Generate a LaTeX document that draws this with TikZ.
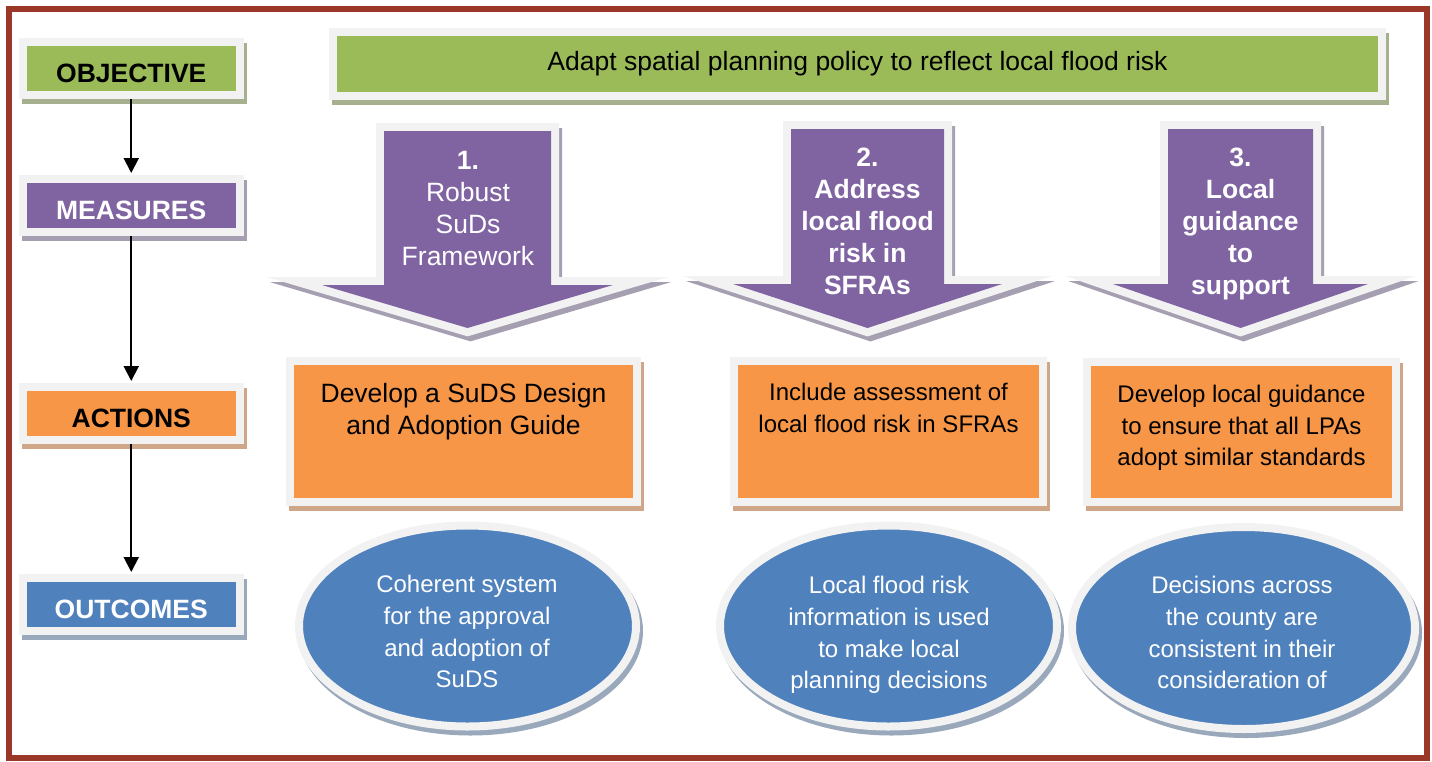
\documentclass[tikz,border=0pt]{standalone}
\usepackage{fontspec}
\setmainfont{Liberation Sans}
\usetikzlibrary{arrows.meta,shadows,shapes.geometric}
\definecolor{bordc}{HTML}{9A3728}
\definecolor{framec}{HTML}{F2F2F2}
\definecolor{grn}{HTML}{9BBB59}
\definecolor{pur}{HTML}{8064A2}
\definecolor{org}{HTML}{F79646}
\definecolor{blu}{HTML}{4F81BD}
\definecolor{grnsh}{HTML}{A7B08E}
\definecolor{pursh}{HTML}{A69FB2}
\definecolor{orgsh}{HTML}{CFA687}
\definecolor{blush}{HTML}{9AA8BC}
\tikzset{
  shd/.style={drop shadow={shadow xshift=3pt, shadow yshift=-5pt, opacity=1, fill=#1, draw=#1, line width=8pt}},
  fbox/.style={rectangle, draw=framec, line width=8pt, inner sep=0pt},
  lbl/.style={fbox, minimum width=216.5pt, minimum height=53pt, font=\fontsize{26.5}{32}\selectfont\bfseries, text height=27pt, text depth=0pt},
  bigtxt/.style={font=\fontsize{26.5}{32}\selectfont, align=center, inner sep=0pt},
  bigbold/.style={font=\fontsize{26.5}{32}\selectfont\bfseries, align=center, inner sep=0pt},
  smtxt/.style={font=\fontsize{24}{31.7}\selectfont, align=center, inner sep=0pt},
  conn/.style={line width=2pt, -{Triangle[width=15pt,length=15pt]}, shorten >=2pt},
  blockarrow/.style={fill=pur, line join=miter,
     preaction={draw=pursh, fill=pursh, line width=16pt, line join=miter, transform canvas={shift={(3pt,-5pt)}}},
     preaction={draw=framec, fill=framec, line width=16pt, line join=miter}},
  outc/.style={ellipse, draw=framec, fill=blu, line width=8pt, inner sep=0pt, minimum width=337pt, minimum height=201pt, shd=blush}
}
\begin{document}
\begin{tikzpicture}[x=1pt,y=-1pt]
\useasboundingbox (0,0) rectangle (1432,761);
\draw[bordc, line width=6pt] (9,9) rectangle (1427,758);

% left labels
\node[lbl, fill=grn, shd=grnsh] (objL) at (131.25,68.5) {OBJECTIVE};
\node[lbl, fill=pur, shd=pursh, text=white] (measL) at (131.25,205.5) {MEASURES};
\node[lbl, fill=org, shd=orgsh] (actL) at (131.25,413.5) {ACTIONS};
\node[lbl, fill=blu, shd=blush, text=white] (outL) at (131.25,604.5) {OUTCOMES};
\draw[conn] (objL) -- (measL);
\draw[conn] (measL) -- (actL);
\draw[conn] (actL) -- (outL);

% objective
\node[fbox, fill=grn, shd=grnsh, minimum width=1049pt, minimum height=64pt, font=\fontsize{26.5}{32}\selectfont] (obj) at (857.5,64) {Adapt spatial planning policy to reflect local flood risk};

% measures (block arrows)
\path[blockarrow] (384,131) -- (551,131) -- (551,285) -- (613,285) -- (467.5,328) -- (322,285) -- (384,285) -- cycle;
\path[blockarrow] (791,129) -- (944,129) -- (944,284) -- (1002,284) -- (867.5,328) -- (733,284) -- (791,284) -- cycle;
\path[blockarrow] (1168,129) -- (1313,129) -- (1313,284) -- (1368,284) -- (1240.5,328) -- (1113,284) -- (1168,284) -- cycle;
\node[bigtxt, text=white, anchor=north] (m1t) at (468,151) {\textbf{1.}\\Robust\\SuDs\\Framework};
\node[bigbold, text=white, anchor=north] (m2t) at (867.5,148) {2.\\Address\\local flood\\risk in\\SFRAs};
\node[bigbold, text=white, anchor=north] (m3t) at (1240.5,148) {3.\\Local\\guidance\\to\\support};

% actions
\node[fbox, fill=org, shd=orgsh, minimum width=347pt, minimum height=141pt] (act1) at (463.5,431.5) {};
\node[fbox, fill=org, shd=orgsh, minimum width=309pt, minimum height=141pt] (act2) at (888.5,431.5) {};
\node[fbox, fill=org, shd=orgsh, minimum width=309pt, minimum height=140pt] (act3) at (1241.5,432) {};
\node[bigtxt, anchor=north] (act1t) at (463.5,383) {Develop a SuDS Design\\and Adoption Guide};
\node[smtxt, anchor=north] (act2t) at (888.5,383) {Include assessment of\\local flood risk in SFRAs};
\node[smtxt, anchor=north] (act3t) at (1241.5,385) {Develop local guidance\\to ensure that all LPAs\\adopt similar standards};

% outcomes
\node[outc] (out1) at (467.5,626) {};
\node[outc] (out2) at (888.5,626) {};
\node[outc, minimum width=343pt, minimum height=202pt] (out3) at (1243.5,628) {};
\node[smtxt, text=white, anchor=north] (out1t) at (467,575) {Coherent system\\for the approval\\and adoption of\\SuDS};
\node[smtxt, text=white, anchor=north] (out2t) at (889,576) {Local flood risk\\information is used\\to make local\\planning decisions};
\node[smtxt, text=white, anchor=north] (out3t) at (1242,576) {Decisions across\\the county are\\consistent in their\\consideration of};
\end{tikzpicture}
\end{document}
